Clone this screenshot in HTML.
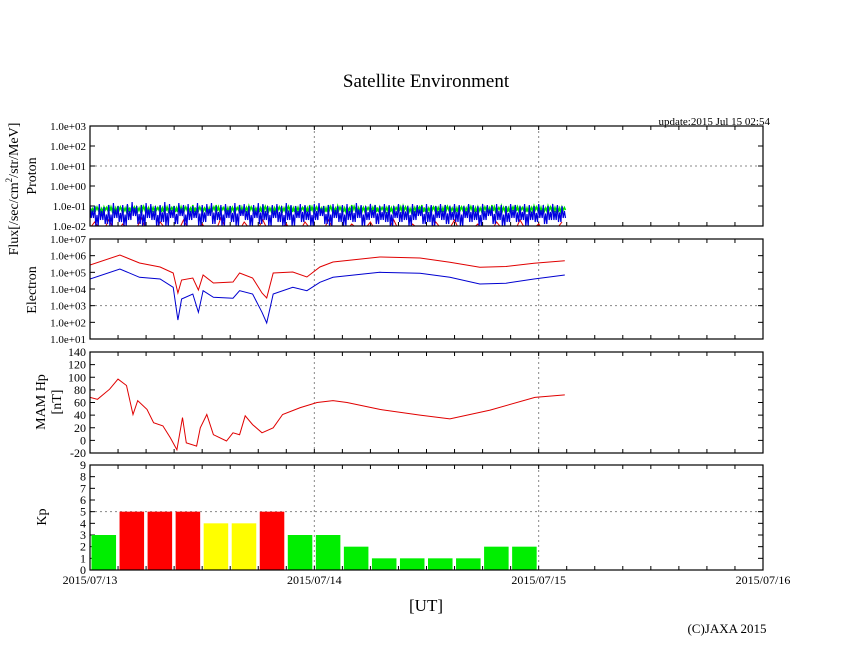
<!DOCTYPE html>
<html><head><meta charset="utf-8"><style>
body{margin:0;background:#fff;}
svg text{font-family:"Liberation Serif",serif;fill:#000;}
</style></head><body>
<svg id="c" width="846" height="655" viewBox="0 0 846 655" xmlns="http://www.w3.org/2000/svg">
<text x="426" y="87" font-size="19" text-anchor="middle">Satellite Environment</text>
<text x="770" y="125" font-size="11" text-anchor="end">update:2015 Jul 15 02:54</text>
<text transform="translate(18,189) rotate(-90)" font-size="14" text-anchor="middle">Flux[/sec/cm<tspan font-size="9" dy="-6">2</tspan><tspan dy="6">/str/MeV]</tspan></text>
<text transform="translate(36,176) rotate(-90)" font-size="14" text-anchor="middle">Proton</text>
<text transform="translate(36,290) rotate(-90)" font-size="14" text-anchor="middle">Electron</text>
<text transform="translate(45,402) rotate(-90)" font-size="14" text-anchor="middle">MAM Hp</text>
<text transform="translate(61,402) rotate(-90)" font-size="14" text-anchor="middle">[nT]</text>
<text transform="translate(46,517) rotate(-90)" font-size="14" text-anchor="middle">Kp</text>
<text x="426" y="611" font-size="17" text-anchor="middle">[UT]</text>
<text x="727" y="633" font-size="13" text-anchor="middle">(C)JAXA 2015</text>
</svg>
<script>
// ---- data ----
const dayLabels=["2015/07/13","2015/07/14","2015/07/15","2015/07/16"];
const protonTicks=["1.0e+03","1.0e+02","1.0e+01","1.0e+00","1.0e-01","1.0e-02"];
const electronTicks=["1.0e+07","1.0e+06","1.0e+05","1.0e+04","1.0e+03","1.0e+02","1.0e+01"];
const mamTicks=[140,120,100,80,60,40,20,0,-20];
const kpTicks=[9,8,7,6,5,4,3,2,1,0];
// proton log10 flux sampled every 0.5 h from 0 to 50.5 h (high / low envelopes)
const protonGreen=[-1.1,-1.0,-1.05,-1.05,-0.95,-1.0,-1.0,-1.05,-0.95,-1.0,-1.05,-0.95,-1.0,-1.0,-1.05,-1.0,-0.95,-1.05,-1.0,-0.95,-1.0,-1.05,-0.95,-1.0,-1.05,-1.0,-1.0,-0.95,-1.05,-1.0,-1.0,-1.05,-0.95,-1.0,-1.0,-1.05,-1.0,-0.95,-1.05,-1.0,-1.0,-1.05,-0.95,-1.0,-1.0,-1.05,-1.0,-0.95,-1.0,-1.05,-1.0,-0.95,-1.05,-1.0,-1.0,-1.05,-0.95,-1.0,-1.0,-1.05,-1.0,-0.95,-1.05,-1.0,-1.0,-1.05,-0.95,-1.0,-1.05,-1.0,-1.0,-0.95,-1.05,-1.0,-1.0,-1.0,-0.95,-1.05,-1.0,-1.0,-1.05,-0.95,-1.0,-1.05,-1.0,-1.0,-0.95,-1.05,-1.0,-1.0,-1.0,-0.95,-1.05,-1.0,-1.0,-1.0,-0.95,-1.05,-1.0,-1.0,-1.0,-1.05];
const protonGreenLow=[-1.25,-1.2,-1.3,-1.2,-1.25,-1.3,-1.2,-1.25,-1.3,-1.2,-1.25,-1.2,-1.3,-1.25,-1.2,-1.3,-1.25,-1.2,-1.3,-1.25,-1.2,-1.25,-1.3,-1.2,-1.25,-1.3,-1.2,-1.25,-1.2,-1.3,-1.25,-1.2,-1.3,-1.25,-1.2,-1.25,-1.3,-1.2,-1.25,-1.3,-1.2,-1.25,-1.2,-1.3,-1.25,-1.2,-1.3,-1.25,-1.2,-1.25,-1.3,-1.2,-1.25,-1.2,-1.3,-1.25,-1.2,-1.3,-1.25,-1.2,-1.25,-1.3,-1.2,-1.25,-1.3,-1.2,-1.25,-1.2,-1.3,-1.25,-1.2,-1.3,-1.25,-1.2,-1.25,-1.3,-1.2,-1.25,-1.3,-1.2,-1.25,-1.2,-1.3,-1.25,-1.2,-1.3,-1.25,-1.2,-1.25,-1.3,-1.2,-1.25,-1.2,-1.3,-1.25,-1.2,-1.3,-1.25,-1.2,-1.25,-1.3,-1.2];
const protonBlueHigh=[-0.95,-1.0,-0.9,-1.05,-0.95,-0.85,-1.0,-0.95,-0.9,-0.8,-1.0,-0.95,-0.85,-0.9,-1.0,-0.95,-0.8,-0.9,-1.0,-0.85,-0.95,-0.9,-1.0,-0.85,-0.95,-0.9,-0.85,-1.0,-0.95,-0.9,-1.0,-0.85,-0.95,-0.9,-1.0,-0.95,-0.85,-0.9,-1.0,-0.95,-0.9,-1.0,-0.85,-0.95,-1.0,-0.9,-0.95,-1.0,-0.9,-0.85,-1.0,-0.95,-0.9,-1.0,-0.95,-0.9,-1.0,-0.85,-0.95,-1.0,-0.9,-0.95,-1.0,-0.9,-0.95,-1.0,-0.9,-0.95,-1.0,-0.9,-0.95,-1.0,-0.9,-0.95,-1.0,-0.9,-0.95,-1.0,-0.9,-0.95,-1.0,-0.9,-0.95,-1.0,-0.9,-0.95,-1.0,-0.9,-0.95,-1.0,-0.9,-0.95,-1.0,-0.9,-0.95,-1.0,-0.9,-0.95,-1.0,-0.9,-0.95,-1.0];
const protonBlue=[-1.6,-2.0,-1.7,-1.9,-2.0,-1.6,-1.8,-2.0,-1.7,-1.5,-1.9,-2.0,-1.6,-1.7,-2.0,-1.8,-2.0,-1.6,-1.9,-1.5,-2.0,-1.7,-1.6,-2.0,-1.8,-1.5,-1.9,-1.7,-2.0,-1.6,-1.8,-2.0,-1.5,-1.7,-2.0,-1.6,-1.9,-1.7,-2.0,-1.6,-1.8,-2.0,-1.7,-2.0,-1.6,-1.8,-1.7,-2.0,-1.7,-1.5,-1.9,-2.0,-1.6,-1.8,-2.0,-1.7,-1.8,-1.6,-2.0,-1.7,-1.6,-1.9,-1.7,-1.8,-2.0,-1.6,-1.8,-1.7,-2.0,-1.7,-1.5,-1.9,-1.8,-2.0,-1.6,-1.7,-1.9,-1.7,-1.8,-2.0,-1.6,-1.8,-1.7,-2.0,-1.7,-1.5,-1.9,-1.7,-2.0,-1.8,-1.6,-1.8,-1.7,-2.0,-1.7,-1.8,-1.6,-1.9,-1.7,-1.7,-1.8,-1.6];
const protonRed=[-2.1,-1.8,-2.1,-2.2,-1.7,-2.1,-2.2,-1.9,-2.1,-2.2,-2.1,-1.6,-2.2,-2.1,-2.2,-1.8,-2.1,-2.2,-2.1,-2.2,-1.7,-2.1,-2.2,-2.1,-1.9,-2.2,-2.1,-2.2,-1.6,-2.1,-2.2,-2.1,-2.2,-1.8,-2.1,-2.2,-2.1,-1.7,-2.2,-2.1,-2.2,-2.1,-1.9,-2.2,-2.1,-2.2,-1.8,-2.1,-2.2,-2.1,-2.2,-1.7,-2.1,-2.2,-2.1,-2.2,-1.9,-2.1,-2.2,-2.1,-1.8,-2.2,-2.1,-2.2,-2.1,-1.7,-2.2,-2.1,-2.2,-1.9,-2.1,-2.2,-2.1,-2.2,-1.8,-2.1,-2.2,-2.1,-1.7,-2.2,-2.1,-2.2,-2.1,-1.9,-2.2,-2.1,-2.2,-1.8,-2.1,-2.2,-2.1,-2.2,-1.7,-2.1,-2.2,-2.1,-1.9,-2.2,-2.1,-2.2,-2.1,-1.8];
// electron: hours and log10 flux
const elecHours=[0,3.2,5.3,7.5,8.9,9.4,9.8,11,11.6,12.1,13.2,15.3,16,17.4,18.4,18.9,19.6,21.7,23.2,24.6,26,31,35.3,38.5,41.7,44.5,47.5,50.8];
const elecRed=[5.44,6.04,5.56,5.32,4.96,3.76,4.54,4.66,3.94,4.84,4.36,4.42,4.96,4.66,3.76,3.46,4.96,5.02,4.72,5.32,5.62,5.92,5.86,5.6,5.3,5.35,5.55,5.7];
const elecBlue=[4.6,5.2,4.7,4.6,4.1,2.14,3.4,3.7,2.6,3.9,3.5,3.45,3.9,3.7,2.6,1.96,3.7,4.1,3.9,4.4,4.7,5.0,4.95,4.7,4.3,4.35,4.6,4.84];
// MAM Hp
const mamHours=[0,0.8,2.1,3.0,3.9,4.6,5.1,6.1,6.8,7.8,8.6,9.3,9.9,10.3,11.4,11.8,12.5,13.2,14.6,15.3,16,16.6,17.4,18.4,19.6,20.6,22.5,24.3,26,27.5,31,35.3,38.5,42.8,47.6,50.8];
const mamValues=[68,65,81,97,87,41,63,49,28,23,4,-15,36,-4,-9,20,41,9,-1,12,9,39,25,12,20,41,52,60,63,60,49,40,34,48,68,72];
// Kp every 3 h
const kpValues=[3,5,5,5,4,4,5,3,3,2,1,1,1,1,2,2];

// ---- layout ----
const svg=document.getElementById('c');
const NS='http://www.w3.org/2000/svg';
const X0=90,X1=763,HOURS=72;
const xs=h=>X0+(X1-X0)*h/HOURS;
const panels={proton:[126,226],electron:[239,339],mam:[352,453],kp:[465,570]};
const yP=v=>panels.proton[0]+(3-v)*(100/5);
const yE=v=>panels.electron[0]+(7-v)*(100/6);
const yM=v=>panels.mam[0]+(140-v)*(101/160);
const yK=v=>panels.kp[1]-v*(105/9);
function mk(tag,attrs,parent){const e=document.createElementNS(NS,tag);for(const k in attrs)e.setAttribute(k,attrs[k]);(parent||svg).appendChild(e);return e;}
function clip(id,p){const d=mk('clipPath',{id:id});mk('rect',{x:X0,y:p[0],width:X1-X0,height:p[1]-p[0]},d);}
function line(x1,y1,x2,y2,st,name){const l=mk('line',{x1,y1,x2,y2,stroke:st.c||'#000','stroke-width':st.w||1});if(st.d)l.setAttribute('stroke-dasharray',st.d);return l;}
function label(x,y,t,anchor,name,size){const e=mk('text',{x,y,'font-size':size||11,'text-anchor':anchor});e.textContent=t;}
function poly(hs,vs,yf,color,name,cid,w){let d='';hs.forEach((h,i)=>{d+=(i?'L':'M')+xs(h).toFixed(1)+','+yf(vs[i]).toFixed(1);});const p=mk('path',{d,fill:'none',stroke:color,'stroke-width':w||1,'clip-path':'url(#'+cid+')'});}
// zig-zag noise band between high and low envelopes (4 sub-steps per sample)
function band(hi,lo,color,name,w){let d='';hi.forEach((v,i)=>{const h=i*0.5;const pts=[[h,v],[h+0.125,lo[i]],[h+0.25,(v+lo[i])/2+0.05],[h+0.375,lo[i]]];pts.forEach((q,j)=>{d+=((i||j)?'L':'M')+xs(q[0]).toFixed(1)+','+yP(q[1]).toFixed(1);});});const p=mk('path',{d,fill:'none',stroke:color,'stroke-width':w||1,'clip-path':'url(#clip-proton)'});}

const grid={c:'#888',d:'2,3'};
Object.entries(panels).forEach(([k,p])=>{
  clip('clip-'+k,p);
  [24,48].forEach(h=>line(xs(h),p[0],xs(h),p[1],grid,k+'-day-grid'));
  for(let h=3;h<HOURS;h+=3){line(xs(h),p[0],xs(h),p[0]+4,{},k+'-x-tick');line(xs(h),p[1],xs(h),p[1]-4,{},k+'-x-tick');}
});
line(X0,yP(1),X1,yP(1),grid,'proton-grid');
line(X0,yE(3),X1,yE(3),grid,'electron-grid');
line(X0,yK(5),X1,yK(5),grid,'kp-grid');
protonTicks.forEach((t,i)=>{const y=yP(3-i);label(86,y+4,t,'end','proton-tick-label');line(X0,y,X0+5,y,{},'proton-y-tick');line(X1,y,X1-5,y,{},'proton-y-tick');});
electronTicks.forEach((t,i)=>{const y=yE(7-i);label(86,y+4,t,'end','electron-tick-label');line(X0,y,X0+5,y,{},'electron-y-tick');line(X1,y,X1-5,y,{},'electron-y-tick');});
mamTicks.forEach(t=>{const y=yM(t);label(86,y+4,String(t),'end','mam-tick-label',12);line(X0,y,X0+5,y,{},'mam-y-tick');line(X1,y,X1-5,y,{},'mam-y-tick');});
kpTicks.forEach(t=>{const y=yK(t);label(86,y+4,String(t),'end','kp-tick-label',12);line(X0,y,X0+5,y,{},'kp-y-tick');line(X1,y,X1-5,y,{},'kp-y-tick');});
dayLabels.forEach((t,i)=>label(xs(i*24),584,t,'middle','x-tick-label',12));

// proton series
const pH=protonRed.map((_,i)=>i*0.5);
poly(pH,protonRed,yP,'#e00000','proton-red-series','clip-proton');
band(protonGreen,protonGreenLow,'#00e000','proton-green-series',1.5);
band(protonBlueHigh,protonBlue,'#0000e0','proton-blue-series',1.2);
// electron
poly(elecHours,elecRed,yE,'#e00000','electron-red-series','clip-electron');
poly(elecHours,elecBlue,yE,'#0000d0','electron-blue-series','clip-electron');
// mam
poly(mamHours,mamValues,yM,'#e00000','mam-hp-series','clip-mam');
// kp bars
kpValues.forEach((v,i)=>{
  const col=v>=5?'#ff0000':(v>=4?'#ffff00':'#00ee00');
  const b=mk('rect',{x:xs(i*3)+1.5,y:yK(v),width:xs(3)-X0-3.5,height:yK(0)-yK(v),fill:col});
  
  
});
Object.entries(panels).forEach(([k,p])=>{
  const r=mk('rect',{x:X0,y:p[0],width:X1-X0,height:p[1]-p[0],fill:'none',stroke:'#000','stroke-width':1.2});
  
  
});
</script>
</body></html>
